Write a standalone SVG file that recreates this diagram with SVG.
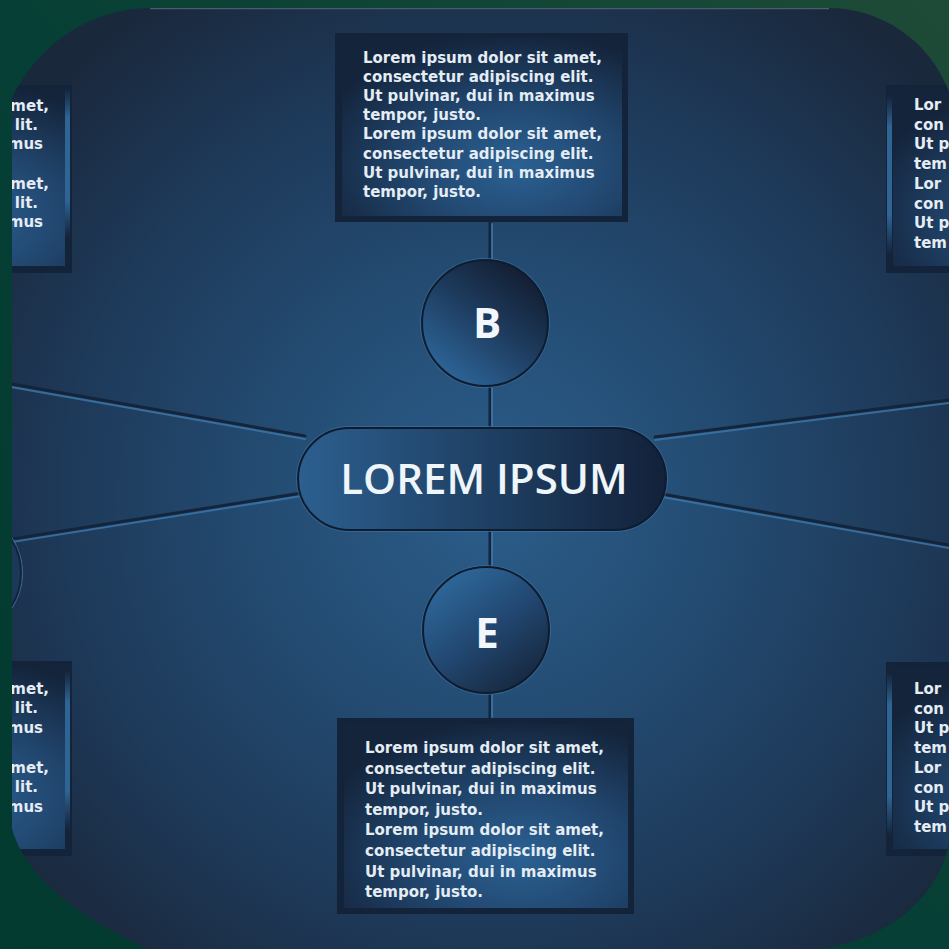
<svg xmlns="http://www.w3.org/2000/svg" width="949" height="949" viewBox="0 0 949 949">
<defs>
<style>
.bt{font-family:"DejaVu Sans","Liberation Sans",sans-serif;font-weight:bold;font-size:15px;fill:#e4ecf4}
.be{font-family:"DejaVu Sans","Liberation Sans",sans-serif;font-weight:bold;font-size:15px;fill:#e4ecf4;text-anchor:end}
.big{font-family:"Open Sans","Liberation Sans",sans-serif;font-weight:600;font-size:42px;fill:#eef5fb;text-anchor:middle}
.let{font-family:"Open Sans","Liberation Sans",sans-serif;font-weight:700;font-size:42px;fill:#f2f7fc;text-anchor:middle}
.dk{stroke:#14253b;stroke-width:3;fill:none;stroke-linecap:round}
.lt{stroke:#3d78ab;stroke-width:2;fill:none;stroke-linecap:round;opacity:0.8}
.frame{fill:#13233a}
.inner{fill:url(#boxG)}
.strip{fill:url(#stripG)}
</style>
<linearGradient id="bgG" x1="1" y1="0" x2="0" y2="1">
<stop offset="0" stop-color="#1e4b37"/>
<stop offset="0.5" stop-color="#063f35"/>
<stop offset="1" stop-color="#033a30"/>
</linearGradient>
<radialGradient id="panelG" cx="490" cy="500" r="600" gradientUnits="userSpaceOnUse">
<stop offset="0" stop-color="#2b5d8a"/>
<stop offset="0.35" stop-color="#244d74"/>
<stop offset="0.7" stop-color="#1e3a5a"/>
<stop offset="1" stop-color="#1a283c"/>
</radialGradient>
<radialGradient id="boxG" cx="0.62" cy="0.72" r="0.75">
<stop offset="0" stop-color="#2b6193"/>
<stop offset="0.5" stop-color="#21466e"/>
<stop offset="1" stop-color="#14243b"/>
</radialGradient>
<linearGradient id="stripG" x1="0" y1="0" x2="0" y2="1">
<stop offset="0" stop-color="#2d5f8c" stop-opacity="0"/>
<stop offset="0.2" stop-color="#2f6594"/>
<stop offset="0.75" stop-color="#2f6594"/>
<stop offset="1" stop-color="#2d5f8c" stop-opacity="0"/>
</linearGradient>
<linearGradient id="pillG" x1="0" y1="0" x2="1" y2="0">
<stop offset="0" stop-color="#2c5f8f"/>
<stop offset="0.5" stop-color="#1f4165"/>
<stop offset="1" stop-color="#13213a"/>
</linearGradient>
<linearGradient id="bG" x1="0.2" y1="0.9" x2="0.8" y2="0.1">
<stop offset="0" stop-color="#2c6396"/>
<stop offset="0.55" stop-color="#1d3a5c"/>
<stop offset="1" stop-color="#131f33"/>
</linearGradient>
<linearGradient id="eG" x1="0.2" y1="0.1" x2="0.8" y2="0.9">
<stop offset="0" stop-color="#2d6698"/>
<stop offset="0.5" stop-color="#224872"/>
<stop offset="1" stop-color="#172a42"/>
</linearGradient>
<clipPath id="panelClip">
<path d="M12 98 C 40 40, 95 8, 150 8 L 829 8 C 880 8, 930 40, 949 92 L 949 842 C 940 895, 890 940, 819 949 L 147 949 C 100 925, 30 890, 12 829 Z"/>
</clipPath>
</defs>

<rect width="949" height="949" fill="url(#bgG)"/>

<g clip-path="url(#panelClip)">
<rect width="949" height="949" fill="url(#panelG)"/>
<line x1="150" y1="8.5" x2="829" y2="8.5" stroke="#4b5c6e" stroke-width="1.5"/>

<g id="connectors">
<line class="dk" x1="490" y1="222" x2="490" y2="262"/>
<line class="dk" x1="490" y1="385" x2="490" y2="430"/>
<line class="dk" x1="490" y1="529" x2="490" y2="568"/>
<line class="dk" x1="490" y1="692" x2="490" y2="719"/>
<line class="lt" x1="492" y1="224" x2="492" y2="260"/>
<line class="lt" x1="492" y1="388" x2="492" y2="428"/>
<line class="lt" x1="492" y1="532" x2="492" y2="566"/>
<line class="lt" x1="492" y1="695" x2="492" y2="717"/>
<line class="dk" x1="0" y1="382" x2="305" y2="436"/>
<line class="lt" x1="0" y1="385" x2="305" y2="439"/>
<line class="dk" x1="0" y1="541" x2="302" y2="493"/>
<line class="lt" x1="0" y1="544" x2="302" y2="496"/>
<line class="dk" x1="655" y1="437" x2="949" y2="400"/>
<line class="lt" x1="655" y1="440" x2="949" y2="403"/>
<line class="dk" x1="662" y1="494" x2="949" y2="545"/>
<line class="lt" x1="662" y1="497" x2="949" y2="548"/>
</g>

<g id="node-left-circle">
<circle cx="-41" cy="573" r="64" fill="#3d78ab" opacity="0.8"/>
<circle cx="-41" cy="573" r="62" fill="#1c3858" stroke="#13233a" stroke-width="2"/>
</g>

<g id="node-box-top">
<rect class="frame" x="335" y="33" width="293" height="189"/>
<rect class="inner" x="342" y="38" width="280" height="178"/>
<text class="bt" x="363" y="63"><tspan x="363">Lorem ipsum dolor sit amet,</tspan><tspan x="363" dy="19.1">consectetur adipiscing elit.</tspan><tspan x="363" dy="19.1">Ut pulvinar, dui in maximus</tspan><tspan x="363" dy="19.1">tempor, justo.</tspan><tspan x="363" dy="19.1">Lorem ipsum dolor sit amet,</tspan><tspan x="363" dy="19.1">consectetur adipiscing elit.</tspan><tspan x="363" dy="19.1">Ut pulvinar, dui in maximus</tspan><tspan x="363" dy="19.1">tempor, justo.</tspan></text>
</g>

<g id="node-box-bottom">
<rect class="frame" x="337" y="718" width="297" height="196"/>
<rect class="inner" x="344" y="724" width="284" height="184"/>
<text class="bt" x="365" y="753"><tspan x="365">Lorem ipsum dolor sit amet,</tspan><tspan x="365" dy="20.6">consectetur adipiscing elit.</tspan><tspan x="365" dy="20.6">Ut pulvinar, dui in maximus</tspan><tspan x="365" dy="20.6">tempor, justo.</tspan><tspan x="365" dy="20.6">Lorem ipsum dolor sit amet,</tspan><tspan x="365" dy="20.6">consectetur adipiscing elit.</tspan><tspan x="365" dy="20.6">Ut pulvinar, dui in maximus</tspan><tspan x="365" dy="20.6">tempor, justo.</tspan></text>
</g>

<g id="node-box-left-top">
<rect class="frame" x="-220" y="85" width="292" height="188"/>
<rect class="inner" x="-214" y="90" width="279" height="176"/>
<rect class="strip" x="65" y="88" width="5" height="150"/>
<text class="be" x="49" y="111">met,</text>
<text class="be" x="38" y="130">lit.</text>
<text class="be" x="43" y="149">mus</text>
<text class="be" x="49" y="189">met,</text>
<text class="be" x="38" y="208">lit.</text>
<text class="be" x="43" y="227">mus</text>
</g>

<g id="node-box-left-bottom">
<rect class="frame" x="-220" y="661" width="292" height="195"/>
<rect class="inner" x="-214" y="666" width="279" height="183"/>
<rect class="strip" x="65" y="670" width="5" height="160"/>
<text class="be" x="49" y="694">met,</text>
<text class="be" x="38" y="713">lit.</text>
<text class="be" x="43" y="733">mus</text>
<text class="be" x="49" y="773">met,</text>
<text class="be" x="38" y="792">lit.</text>
<text class="be" x="43" y="812">mus</text>
</g>

<g id="node-box-right-top">
<rect class="frame" x="886" y="85" width="292" height="188"/>
<rect class="inner" x="893" y="90" width="279" height="176"/>
<rect class="strip" x="887" y="95" width="5" height="160"/>
<text class="bt" x="914" y="110"><tspan x="914">Lor</tspan><tspan x="914" dy="19.7">con</tspan><tspan x="914" dy="19.7">Ut p</tspan><tspan x="914" dy="19.7">tem</tspan><tspan x="914" dy="19.7">Lor</tspan><tspan x="914" dy="19.7">con</tspan><tspan x="914" dy="19.7">Ut p</tspan><tspan x="914" dy="19.7">tem</tspan></text>
</g>

<g id="node-box-right-bottom">
<rect class="frame" x="886" y="662" width="292" height="194"/>
<rect class="inner" x="893" y="667" width="279" height="182"/>
<rect class="strip" x="887" y="672" width="5" height="165"/>
<text class="bt" x="914" y="694"><tspan x="914">Lor</tspan><tspan x="914" dy="19.7">con</tspan><tspan x="914" dy="19.7">Ut p</tspan><tspan x="914" dy="19.7">tem</tspan><tspan x="914" dy="19.7">Lor</tspan><tspan x="914" dy="19.7">con</tspan><tspan x="914" dy="19.7">Ut p</tspan><tspan x="914" dy="19.7">tem</tspan></text>
</g>

<g id="node-B">
<circle cx="485" cy="323" r="65" fill="#3a71a3" opacity="0.7"/>
<circle cx="485" cy="323" r="63" fill="url(#bG)" stroke="#0f1c2e" stroke-width="2"/>
<text class="let" x="487" y="338">B</text>
</g>

<g id="node-E">
<circle cx="486" cy="630" r="65" fill="#3a71a3" opacity="0.7"/>
<circle cx="486" cy="630" r="63" fill="url(#eG)" stroke="#0f1c2e" stroke-width="2"/>
<text class="let" x="487" y="648">E</text>
</g>

<g id="node-center">
<rect x="296" y="426" width="372" height="106" rx="53" fill="#3a71a3" opacity="0.7"/>
<rect x="298" y="428" width="368" height="102" rx="51" fill="url(#pillG)" stroke="#0f1c2e" stroke-width="2"/>
<text class="big" x="484" y="494">LOREM IPSUM</text>
</g>
</g>
</svg>
